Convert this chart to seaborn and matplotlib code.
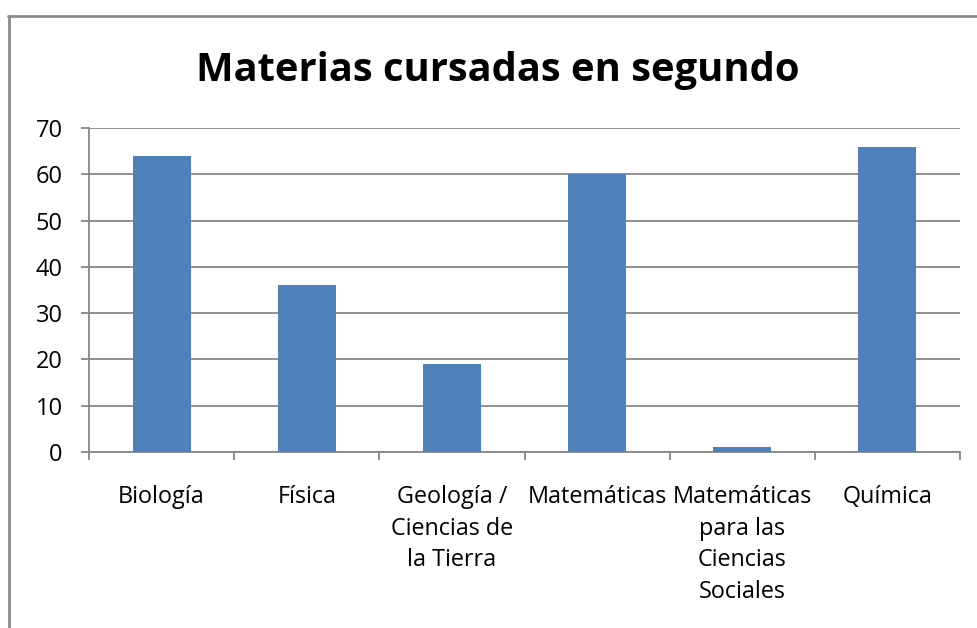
import numpy as np
import pandas as pd
import matplotlib
matplotlib.use('Agg')
import matplotlib.pyplot as plt
from matplotlib.lines import Line2D
from matplotlib.ticker import FixedLocator
import seaborn as sns

materias = ['Biología', 'Física', 'Geología /\nCiencias de\nla Tierra', 'Matemáticas',
            'Matemáticas\npara las\nCiencias\nSociales', 'Química']
alumnos = [64, 36, 19, 60, 1, 66]
y_ticks = [0, 10, 20, 30, 40, 50, 60, 70]
titulo = 'Materias cursadas en segundo'

sns.set_style('white')
plt.rcParams['font.family'] = ['Open Sans', 'DejaVu Sans']
plt.rcParams['text.color'] = 'black'
plt.rcParams['xtick.labelcolor'] = 'black'
plt.rcParams['ytick.labelcolor'] = 'black'

df = pd.DataFrame({'materia': materias, 'alumnos': alumnos})

fig = plt.figure(figsize=(9.77, 6.28), dpi=100)
ax = fig.add_axes([89 / 977, 1 - 452 / 628, (960 - 89) / 977, (452 - 128) / 628])

sns.barplot(data=df, x='materia', y='alumnos', color='#4F81BD', saturation=1,
            width=0.4, linewidth=0, ax=ax, zorder=3)

gris = '#878787'
ax.set_ylim(0, 70)
ax.set_xlim(-0.5, len(materias) - 0.5)
ax.set_yticks(y_ticks)
ax.yaxis.grid(True, color=gris, lw=1.3, zorder=0)
ax.set_axisbelow(True)

# etiquetas en el centro, marcas entre categorias
ax.set_xticks(np.arange(len(materias)))
ax.set_xticklabels(materias, fontsize=16.8, linespacing=1.42, color='black')
ax.xaxis.set_minor_locator(FixedLocator(np.arange(len(materias) + 1) - 0.5))
ax.tick_params(axis='x', which='major', length=0, pad=24)
ax.tick_params(axis='x', which='minor', length=6, width=1.3, color=gris, direction='out', bottom=True)
ax.tick_params(axis='y', length=6, width=1.3, color=gris, direction='out', left=True,
               labelsize=17, pad=13, labelcolor='black')

for s in ['top', 'right']:
    ax.spines[s].set_visible(False)
for s in ['left', 'bottom']:
    ax.spines[s].set_color(gris)
    ax.spines[s].set_linewidth(1.3)

ax.set_xlabel('')
ax.set_ylabel('')

fig.text(498 / 977, 1 - 70 / 628, titulo, ha='center', va='center',
         fontsize=28.7, fontweight='bold', color='black')

# marco del grafico
fig.add_artist(Line2D([8.5 / 977, 8.5 / 977], [0, 1 - 16 / 628], color='#8c8c8c', lw=2,
                      transform=fig.transFigure))
fig.add_artist(Line2D([8 / 977, 1], [1 - 16 / 628, 1 - 16 / 628], color='#8c8c8c', lw=2,
                      transform=fig.transFigure))

fig.savefig('out.png', dpi=100)
